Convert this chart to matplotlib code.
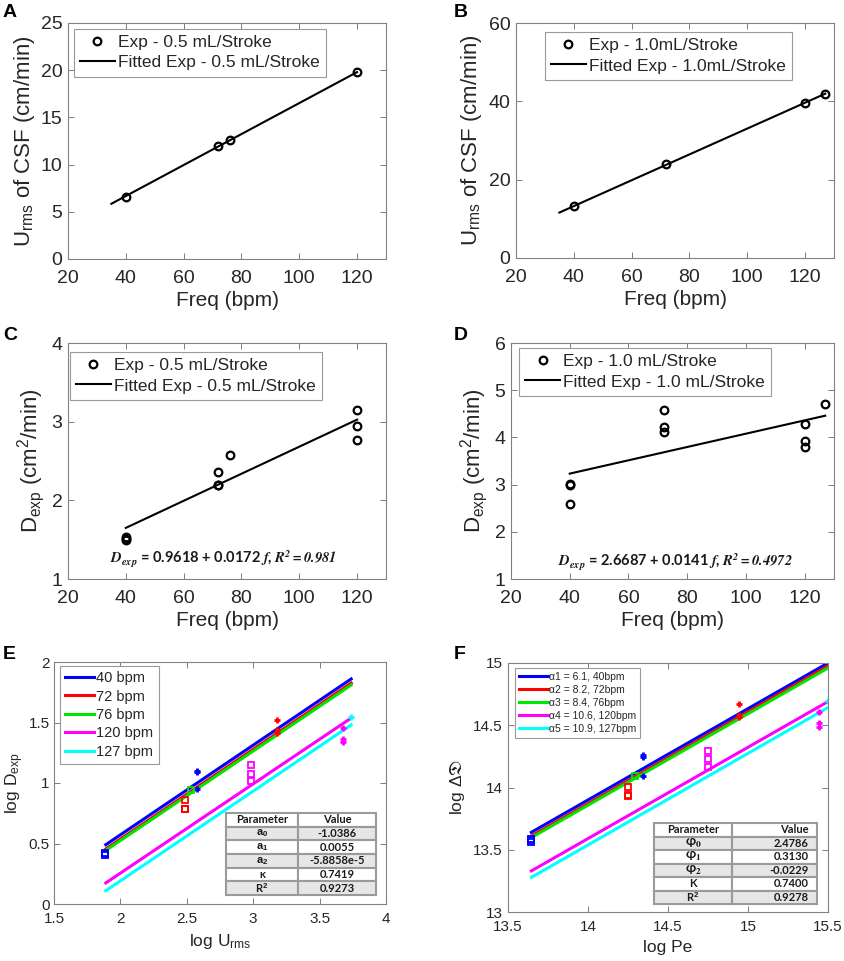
import matplotlib.pyplot as plt
from matplotlib.ticker import FormatStrFormatter
import numpy as np

plt.rcParams['font.family'] = ['Liberation Sans', 'DejaVu Sans']
plt.rcParams['mathtext.fontset'] = 'custom'
plt.rcParams['mathtext.rm'] = 'Liberation Sans'
plt.rcParams['mathtext.it'] = 'Liberation Sans:italic'
plt.rcParams['mathtext.bf'] = 'Liberation Sans:bold'
plt.rcParams['mathtext.default'] = 'regular'

# ---- panel A : Urms vs freq, 0.5 mL/stroke
a_freq = [40, 72, 76, 120]
a_urms = [6.6, 12.0, 12.6, 19.8]
a_fit = (0.107, 0.1641)      # intercept, slope
a_fit_x = [35, 120]

# ---- panel B : Urms vs freq, 1.0 mL/stroke
b_freq = [40, 72, 120, 127]
b_urms = [13.2, 24.0, 39.5, 42.0]
b_fit = (0.05, 0.330)
b_fit_x = [35, 127]

# ---- panel C : Dexp vs freq, 0.5 mL/stroke
c_freq = [40, 40, 40, 72, 72, 72, 76, 120, 120, 120]
c_dexp = [1.53, 1.51, 1.50, 2.36, 2.20, 2.19, 2.57, 3.15, 2.94, 2.77]
c_fit = (0.9618, 0.0172)
c_fit_x = [40, 120]

# ---- panel D : Dexp vs freq, 1.0 mL/stroke
d_freq = [40, 40, 40, 72, 72, 72, 120, 120, 120, 127]
d_dexp = [3.02, 2.99, 2.59, 4.59, 4.21, 4.12, 4.29, 3.92, 3.80, 4.70]
d_fit = (2.6687, 0.0141)
d_fit_x = [40, 127]

# ---- panels E / F : log fits per frequency
series = ['40', '72', '76', '120', '127']
colors = ['#0000ff', '#ff0000', '#00e600', '#ff00ff', '#00ffff']

e_line_x = [1.89, 3.738]
e_line_y0 = [0.49, 0.455, 0.443, 0.174, 0.11]
e_line_y1 = [1.86, 1.826, 1.81, 1.537, 1.48]
e_sq_x = [1.887, 2.485, 2.534, 2.986, None]
e_sq_y = [[0.425, 0.415, 0.405], [0.859, 0.788, 0.784], [0.944],
          [1.147, 1.078, 1.019], []]
e_pl_x = [2.580, 3.178, None, 3.676, 3.738]
e_pl_y = [[1.102, 1.092, 0.952], [1.524, 1.437, 1.416], [],
          [1.456, 1.366, 1.335], [1.548]]
e_table = [['Parameter', 'Value'],
           [r'$\mathbf{a_0}$', '-1.0386'],
           [r'$\mathbf{a_1}$', '0.0055'],
           [r'$\mathbf{a_2}$', '-5.8858e-5'],
           ['κ', '0.7419'],
           [r'R$^\mathbf{2}$', '0.9273']]

f_line_x = [13.646, 15.5]
f_line_y0 = [13.64, 13.61, 13.598, 13.33, 13.278]
f_line_y1 = [15.0, 14.976, 14.96, 14.69, 14.642]
f_sq_x = [13.646, 14.248, 14.296, 14.748, None]
f_sq_y = [[13.585, 13.575, 13.56], [14.007, 13.94, 13.935], [14.095],
          [14.295, 14.228, 14.167], []]
f_pl_x = [14.342, 14.942, None, 15.442, 15.5]
f_pl_y = [[14.26, 14.245, 14.09], [14.67, 14.586, 14.567], [],
          [14.607, 14.52, 14.487], [14.696]]
f_alpha = ['6.1', '8.2', '8.4', '10.6', '10.9']
f_table = [['Parameter', 'Value'],
           [r'$\varphi_\mathbf{0}$', '2.4786'],
           [r'$\varphi_\mathbf{1}$', '0.3130'],
           [r'$\varphi_\mathbf{2}$', '-0.0229'],
           ['Κ', '0.7400'],
           [r'R$^\mathbf{2}$', '0.9278']]

W, H = 844, 961
fig = plt.figure(figsize=(W / 100, H / 100), dpi=100)


def box(l, t, r, b):
    return [l / W, 1 - b / H, (r - l) / W, (b - t) / H]


def style(ax, fs, xpad, ypad):
    ax.tick_params(direction='in', top=True, right=True, length=4, width=0.6,
                   color='#666666', labelcolor='#262626', labelsize=fs)
    ax.tick_params(axis='x', pad=xpad)
    ax.tick_params(axis='y', pad=ypad)
    for s in ax.spines.values():
        s.set_color('#808080')
        s.set_linewidth(0.8)


def legend(ax, anchor, fs, **kw):
    lg = ax.legend(loc='upper left', bbox_to_anchor=anchor, borderaxespad=0,
                   fontsize=fs, fancybox=False, framealpha=1, edgecolor='#999999',
                   labelcolor='#262626', **kw)
    lg.get_frame().set_linewidth(0.8)
    return lg


def fit_panel(ax, fx, fy, fit, fitx, lab, ylim, yticks, ylabel, anchor):
    ax.plot(fx, fy, 'o', ms=5.5, mfc='none', mec='black', mew=1.6, label='Exp - ' + lab)
    xs = np.array(fitx)
    ax.plot(xs, fit[0] + fit[1] * xs, '-', color='black', lw=1.5, label='Fitted Exp - ' + lab)
    ax.set_xlim(20, 130)
    ax.set_xticks([20, 40, 60, 80, 100, 120])
    ax.set_ylim(*ylim)
    ax.set_yticks(yticks)
    ax.set_xlabel('Freq (bpm)', fontsize=15, color='#262626', labelpad=3)
    ax.set_ylabel(ylabel, fontsize=16, color='#262626', labelpad=3)
    style(ax, 14, 8, 4)
    legend(ax, anchor, 12.5, handlelength=2.0, handletextpad=0.2, borderpad=0.35, labelspacing=0.3)


urms_lab = r'U$_\mathregular{rms}$ of CSF (cm/min)'
dexp_lab = r'D$_\mathregular{exp}$ (cm$^2$/min)'

axA = fig.add_axes(box(68, 23, 386, 259))
fit_panel(axA, a_freq, a_urms, a_fit, a_fit_x, '0.5 mL/Stroke', (0, 25), range(0, 26, 5),
          urms_lab, (0.019, 0.975))
axB = fig.add_axes(box(516, 23, 834, 258))
fit_panel(axB, b_freq, b_urms, b_fit, b_fit_x, '1.0mL/Stroke', (0, 60), range(0, 61, 20),
          urms_lab, (0.091, 0.962))
axC = fig.add_axes(box(68, 343, 386, 579))
fit_panel(axC, c_freq, c_dexp, c_fit, c_fit_x, '0.5 mL/Stroke', (1, 4), range(1, 5),
          dexp_lab, (0.006, 0.962))
axD = fig.add_axes(box(511, 343, 834, 579))
fit_panel(axD, d_freq, d_dexp, d_fit, d_fit_x, '1.0 mL/Stroke', (1, 6), range(1, 7),
          dexp_lab, (0.025, 0.979))

eq_kw = dict(ha='center', va='center', fontsize=10.5, fontweight='bold', family='Lato',
             math_fontfamily='stix', color='#1a1a1a')
axC.text(0.49, 0.085, r'$\mathbfit{D}_{\mathbfit{exp}}$ = %.4f + %.4f $\mathbfit{f}$, '
         r'$\mathbfit{R^2 = 0.981}$' % c_fit, transform=axC.transAxes, **eq_kw)
axD.text(0.51, 0.075, r'$\mathbfit{D}_{\mathbfit{exp}}$ = %.4f + %.4f $\mathbfit{f}$, '
         r'$\mathbfit{R^2 = 0.4972}$' % d_fit, transform=axD.transAxes, **eq_kw)


def log_panel(ax, lx, y0, y1, sqx, sqy, plx, ply, labels, lfs, anchor, hl, ls):
    for i in range(len(series)):
        ax.plot(lx, [y0[i], y1[i]], '-', color=colors[i], lw=2.2, label=labels[i])
    for i in range(len(series)):
        if sqx[i] is not None:
            ax.plot([sqx[i]] * len(sqy[i]), sqy[i], 's', ms=4.5, mfc='none',
                    mec=colors[i], mew=1.3)
        if plx[i] is not None:
            ax.plot([plx[i]] * len(ply[i]), ply[i], '+', ms=5, mec=colors[i], mew=2)
    legend(ax, anchor, lfs, handlelength=hl, handletextpad=0.15, borderpad=0.35,
           labelspacing=ls)


def param_table(ax, rows, bbox, right):
    tb = ax.table(cellText=rows, cellLoc='center', colWidths=[0.48, 0.52], bbox=bbox)
    tb.auto_set_font_size(False)
    tb.set_fontsize(8)
    for (r, c), cell in tb.get_celld().items():
        cell.set_edgecolor('#9a9a9a')
        cell.set_linewidth(1.5)
        cell.set_facecolor('#e6e6e6' if r % 2 == 1 else 'white')
        t = cell.get_text()
        t.set_fontweight('bold')
        t.set_family('Lato')
        t.set_color('#1a1a1a')
        if r > 0 and c == 0 and 'varphi' in rows[r][0]:
            t.set_math_fontfamily('stix')
            t.set_fontsize(9.5)
        if right and c == 1:
            cell._loc = 'right'
            t.set_horizontalalignment('right')
    tb.set_zorder(5)


axE = fig.add_axes(box(54, 662, 386, 904))
log_panel(axE, e_line_x, e_line_y0, e_line_y1, e_sq_x, e_sq_y, e_pl_x, e_pl_y,
          [s + ' bpm' for s in series], 10.5, (0.018, 0.983), 2.0, 0.3)
axE.set_xlim(1.5, 4)
axE.set_ylim(0, 2)
axE.set_xticks(np.arange(1.5, 4.01, 0.5))
axE.set_yticks(np.arange(0, 2.01, 0.5))
axE.xaxis.set_major_formatter(FormatStrFormatter('%g'))
axE.yaxis.set_major_formatter(FormatStrFormatter('%g'))
axE.set_xlabel(r'log U$_\mathregular{rms}$', fontsize=12.5, color='#262626')
axE.set_ylabel(r'log D$_\mathregular{exp}$', fontsize=12.5, color='#262626', labelpad=2)
style(axE, 11, 6, 3)
param_table(axE, e_table, [0.518, 0.037, 0.452, 0.339], False)

axF = fig.add_axes(box(508, 663, 828, 912))
log_panel(axF, f_line_x, f_line_y0, f_line_y1, f_sq_x, f_sq_y, f_pl_x, f_pl_y,
          ['α%d = %s, %sbpm' % (i + 1, f_alpha[i], series[i]) for i in range(len(series))],
          7.5, (0.022, 0.98), 2.8, 0.3)
axF.set_xlim(13.5, 15.5)
axF.set_ylim(13, 15)
axF.set_xticks(np.arange(13.5, 15.51, 0.5))
axF.set_yticks(np.arange(13, 15.01, 0.5))
axF.xaxis.set_major_formatter(FormatStrFormatter('%g'))
axF.yaxis.set_major_formatter(FormatStrFormatter('%g'))
axF.set_xlabel('log Pe', fontsize=12.5, color='#262626')
axF.set_ylabel(r'log $\Delta\mathfrak{D}$', fontsize=12.5, color='#262626',
               math_fontfamily='stix')
style(axF, 11, 6, 4)
param_table(axF, f_table, [0.456, 0.032, 0.51, 0.325], True)

for letter, x, y in [('A', 3, 4), ('B', 454, 4), ('C', 3, 327), ('D', 454, 327),
                     ('E', 3, 646), ('F', 454, 646)]:
    fig.text(x / W, 1 - y / H, letter, fontsize=14, fontweight='bold', va='top', ha='left')

fig.savefig('out.png', dpi=100)
